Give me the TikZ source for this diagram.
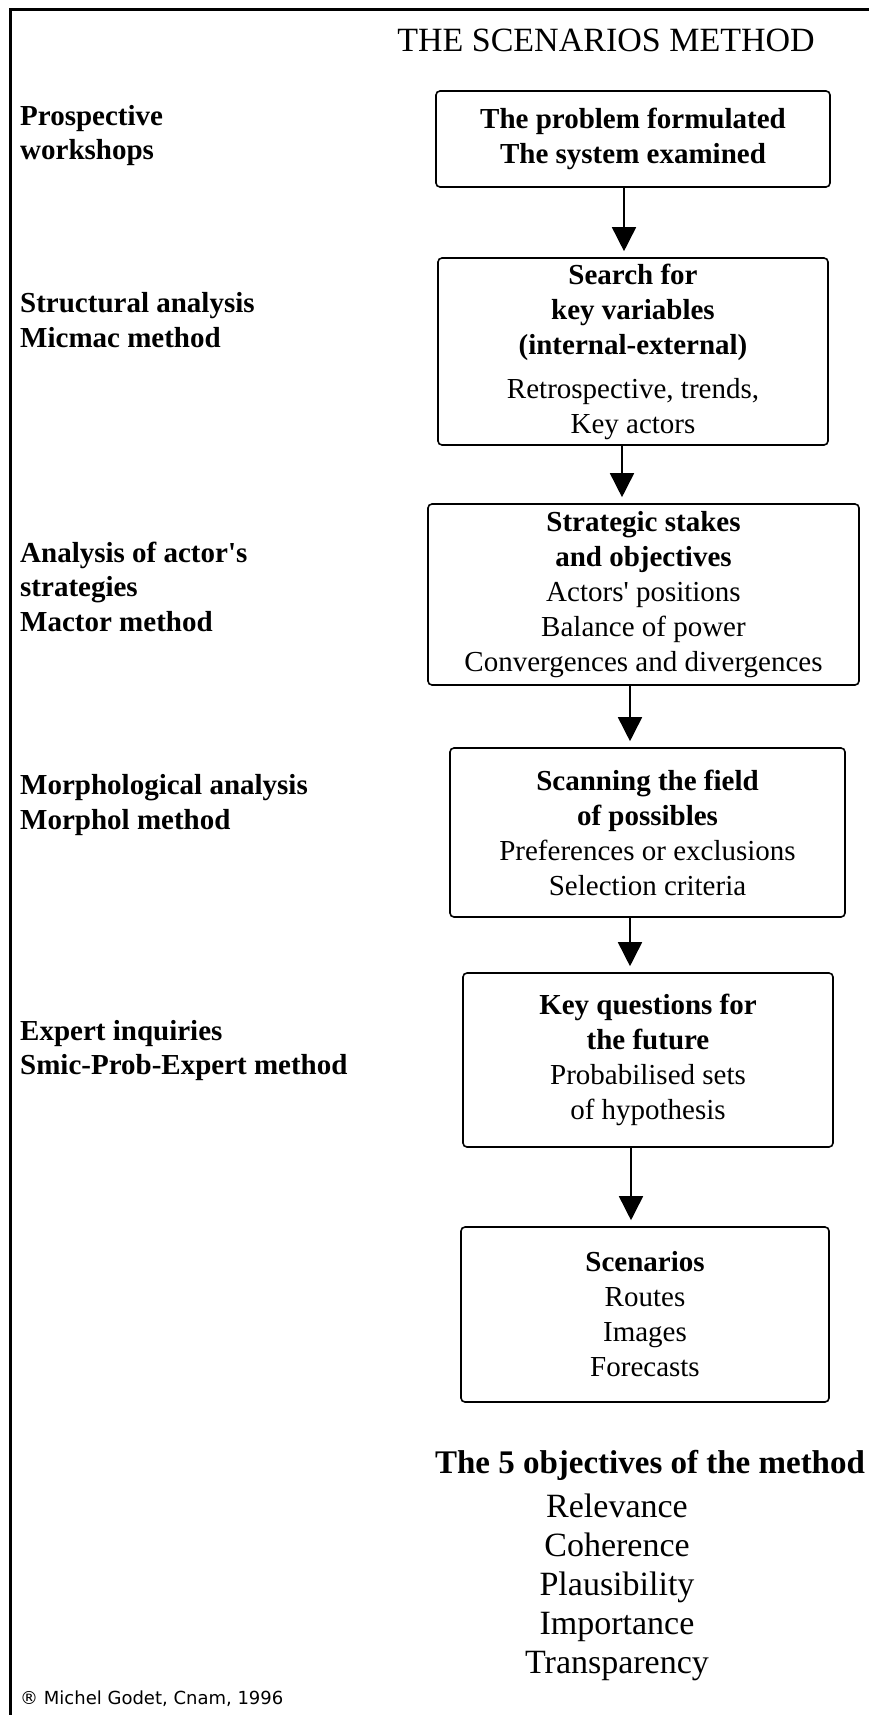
\documentclass[tikz,border=0pt]{standalone}
\usepackage{fontspec}
\setmainfont{Liberation Serif}
\newfontfamily\creditfont{DejaVu Sans}
\usepackage{tikz}
\usetikzlibrary{arrows.meta}
\tikzset{>={Triangle[width=24pt,length=24pt]}}

\begin{document}
\begin{tikzpicture}[x=1pt, y=-1pt,
    stage/.style={draw, line width=1.6pt, rounded corners=4pt, inner sep=0pt,
      align=center, font=\fontsize{29}{35}\selectfont},
    tool/.style={anchor=west, align=left, inner sep=0pt,
      font=\bfseries\fontsize{29}{34.5}\selectfont},
    flow/.style={->, line width=1.6pt, shorten >=6pt}]

  \newcommand\Lx{20}

  \useasboundingbox (0,0) rectangle (869,1715);
  \draw[line width=3pt] (869,10) -- (10,10) -- (10,1715); % frame

  \node[font=\fontsize{34}{40}\selectfont] (title) at (606,40) {THE SCENARIOS METHOD};

  %% the stages
  \node[stage, minimum width=394pt, minimum height=96pt] (problem) at (633,139)
    {\textbf{The problem formulated}\\\textbf{The system examined}};
  \node[stage, minimum width=390pt, minimum height=187pt] (search) at (633,351.5)
    {\textbf{Search for}\\\textbf{key variables}\\\textbf{(internal-external)}\\[9pt]
     Retrospective, trends,\\Key actors};
  \node[stage, minimum width=431pt, minimum height=181pt] (stakes) at (643.5,594.5)
    {\textbf{Strategic stakes}\\\textbf{and objectives}\\Actors\textquotesingle{} positions\\
     Balance of power\\Convergences and divergences};
  \node[stage, minimum width=395pt, minimum height=169pt] (field) at (647.5,832.5)
    {\textbf{Scanning the field}\\\textbf{of possibles}\\Preferences or exclusions\\
     Selection criteria};
  \node[stage, minimum width=370pt, minimum height=174pt] (questions) at (648,1060)
    {\textbf{Key questions for}\\\textbf{the future}\\Probabilised sets\\of hypothesis};
  \node[stage, minimum width=368pt, minimum height=175pt] (scenarios) at (645,1314.5)
    {\textbf{Scenarios}\\Routes\\Images\\Forecasts};

  \foreach \from/\to/\ax in {problem/search/624, search/stakes/622, stakes/field/630,
      field/questions/630, questions/scenarios/631}
    \draw[flow] (\from.south -| \ax,0) -- (\to.north -| \ax,0); %% stage -> stage

  %% the tools on the left
  \node[tool] (workshops) at (\Lx,135.5) {Prospective\\workshops};
  \node[tool] (micmac) at (\Lx,320) {Structural analysis\\Micmac method};
  \node[tool] (mactor) at (\Lx,586.5) {Analysis of actor\textquotesingle s\\strategies\\Mactor method};
  \node[tool] (morphol) at (\Lx,805) {Morphological analysis\\Morphol method};
  \node[tool] (smic) at (\Lx,1050.5) {Expert inquiries\\Smic-Prob-Expert method};

  \node[font=\bfseries\fontsize{33}{40}\selectfont] (objectives) at (650,1465)
    {The 5 objectives of the method};
  \node[align=center, inner sep=0pt, font=\fontsize{34}{39}\selectfont] (criteria) at (617,1587)
    {Relevance\\Coherence\\Plausibility\\Importance\\Transparency};

  \node[anchor=west, inner sep=0pt, font=\creditfont\fontsize{18}{20}\selectfont] (credit)
    at (\Lx,1699) {® Michel Godet, Cnam, 1996};

\end{tikzpicture}
\end{document}
